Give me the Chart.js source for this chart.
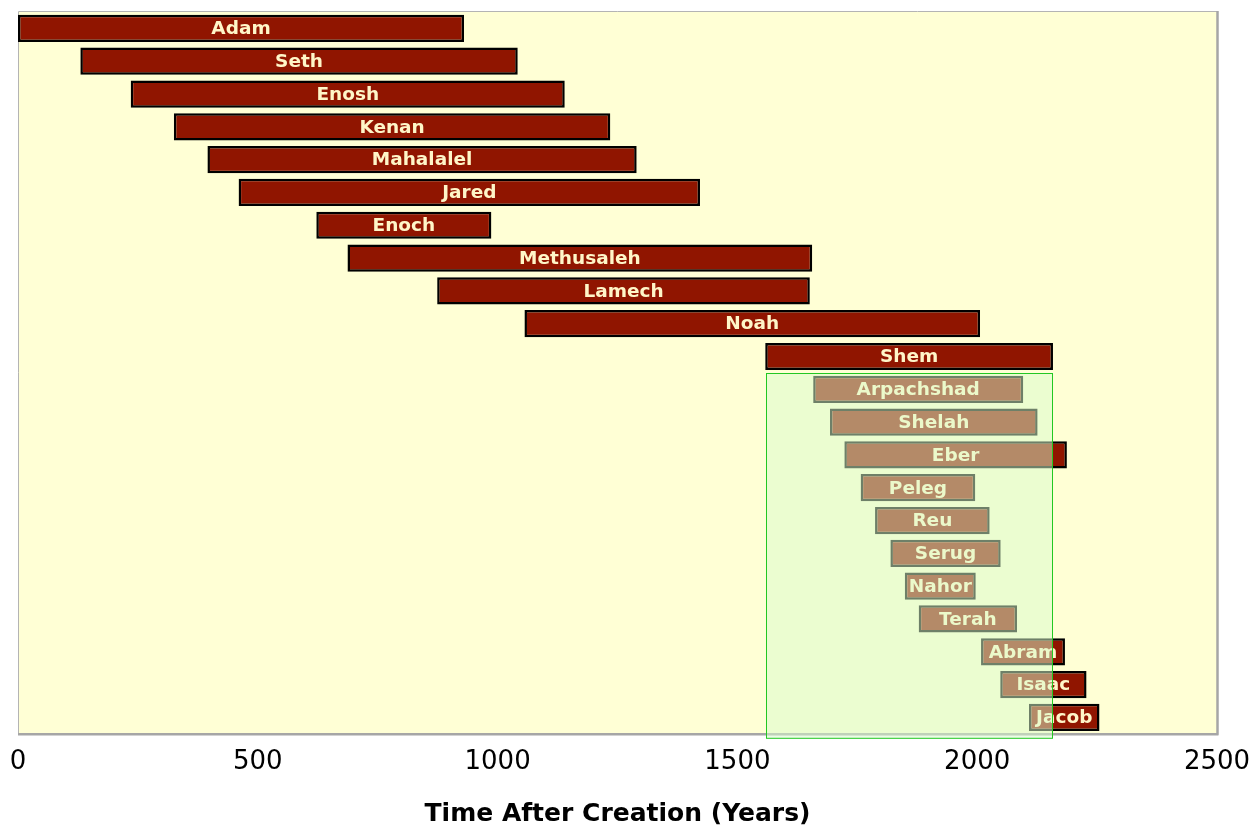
<!DOCTYPE html>
<html>
<head>
<meta charset="utf-8">
<script src="https://cdn.jsdelivr.net/npm/chart.js@4"></script>
<style>
html,body{margin:0;padding:0;background:#fff;}
#wrap{width:1250px;height:835px;}
</style>
</head>
<body>
<div id="wrap"><canvas id="c" width="1250" height="835"></canvas></div>
<script>
const names = ['Adam','Seth','Enosh','Kenan','Mahalalel','Jared','Enoch','Methusaleh','Lamech','Noah','Shem',
  'Arpachshad','Shelah','Eber','Peleg','Reu','Serug','Nahor','Terah','Abram','Isaac','Jacob'];
const births = [0,130,235,325,395,460,622,687,874,1056,1558,1658,1693,1723,1757,1787,1819,1849,1878,2008,2048,2108];
const deaths = [930,1042,1140,1235,1290,1422,987,1656,1651,2006,2158,2096,2126,2187,1996,2026,2049,1997,2083,2183,2228,2255];
const xTickValues = [0,500,1000,1500,2000,2500];
const axisTitle = 'Time After Creation (Years)';
const highlightYears = [1560, 2157];   // shaded period (Shem's lifetime)
const highlightFirstRow = 'Arpachshad';

const spans = names.map((n,i)=>[births[i], deaths[i]]);
const FONT = '"DejaVu Sans", Verdana, sans-serif';

const bgPlugin = {
  id:'bg',
  beforeDatasetsDraw(chart){
    const {ctx, chartArea:a} = chart;
    ctx.save();
    ctx.fillStyle = '#FFFFD5';
    ctx.fillRect(a.left, a.top, a.right-a.left, a.bottom-a.top);
    ctx.strokeStyle = '#B4B4B4';
    ctx.lineWidth = 1;
    ctx.beginPath();
    ctx.moveTo(a.left+0.5, a.bottom); ctx.lineTo(a.left+0.5, a.top-0.5); ctx.lineTo(a.right, a.top-0.5);
    ctx.stroke();
    ctx.strokeStyle = '#A6A6A6';
    ctx.lineWidth = 2.5;
    ctx.beginPath();
    ctx.moveTo(a.right+0.5, a.top-1); ctx.lineTo(a.right+0.5, a.bottom+1);
    ctx.moveTo(a.left, a.bottom+0.5); ctx.lineTo(a.right+1.5, a.bottom+0.5);
    ctx.stroke();
    ctx.restore();
  }
};

const labelPlugin = {
  id:'labels',
  afterDatasetsDraw(chart){
    const {ctx} = chart;
    const meta = chart.getDatasetMeta(0);
    ctx.save();
    ctx.font = 'bold 18.5px ' + FONT;
    ctx.fillStyle = '#FFF6C8';
    ctx.textAlign = 'center';
    ctx.textBaseline = 'middle';
    meta.data.forEach((bar,i)=>{
      const cx = (bar.x + bar.base)/2;
      ctx.fillText(names[i], cx, bar.y+1);
    });
    ctx.restore();
  },
  afterDraw(chart){
    const {ctx, chartArea:a, scales:{x,y}} = chart;
    const idx = names.indexOf(highlightFirstRow);
    const top = Math.round((y.getPixelForValue(idx-1) + y.getPixelForValue(idx))/2) + 0.5;
    const left = Math.round(x.getPixelForValue(highlightYears[0])) + 0.5;
    const right = Math.round(x.getPixelForValue(highlightYears[1])) + 0.5;
    const bottom = a.bottom + 4.5;
    ctx.save();
    ctx.fillStyle = 'rgba(216,251,204,0.51)';
    ctx.fillRect(left, top, right-left, bottom-top);
    ctx.strokeStyle = '#22C822';
    ctx.lineWidth = 1;
    ctx.strokeRect(left, top, right-left, bottom-top);
    ctx.restore();
  }
};

new Chart(document.getElementById('c'), {
  type:'bar',
  data:{
    labels: names,
    datasets:[{
      data: spans,
      backgroundColor:'#901500',
      borderColor:'#000000',
      borderWidth:2.5,
      borderSkipped:false,
      barPercentage:0.83,
      categoryPercentage:1.0
    }]
  },
  options:{
    indexAxis:'y',
    responsive:false,
    devicePixelRatio:1,
    animation:false,
    layout:{padding:{left:18, right:33, top:12, bottom:0}},
    plugins:{legend:{display:false}, tooltip:{enabled:false}},
    scales:{
      y:{display:false},
      x:{
        min:0, max:2500,
        afterBuildTicks(scale){ scale.ticks = xTickValues.map(v=>({value:v})); },
        afterFit(scale){ scale.paddingLeft = 0; scale.paddingRight = 0; },
        grid:{display:false},
        border:{display:false},
        ticks:{color:'#000', padding:5, font:{family:FONT, size:26},
          callback:(v)=>String(v)},
        title:{display:true, text:axisTitle, color:'#000',
          font:{family:FONT, size:25, weight:'bold'},
          padding:{top:16, bottom:6}}
      }
    }
  },
  plugins:[bgPlugin, labelPlugin]
});
</script>
</body>
</html>
